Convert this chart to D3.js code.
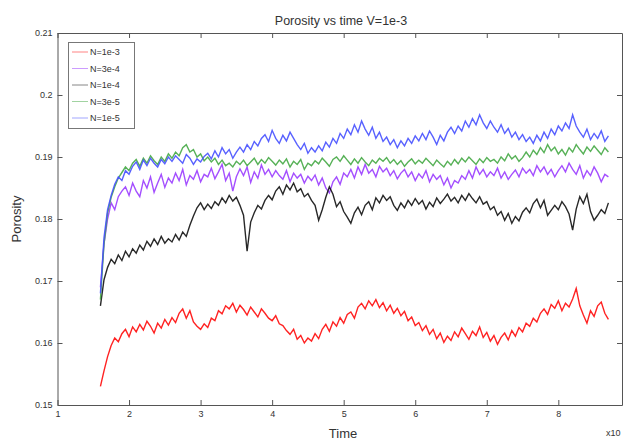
<!DOCTYPE html>
<html>
<head>
<meta charset="utf-8">
<script src="https://cdn.jsdelivr.net/npm/d3@7"></script>
<style>
  html, body { margin: 0; padding: 0; background: #fff; }
  svg { display: block; font-family: "Liberation Sans", Arial, sans-serif; }
  .axis path, .axis line { stroke: #555; }
  .axis text { fill: #333; font-size: 9px; font-family: "Liberation Sans", Arial, sans-serif; }
</style>
</head>
<body>
<svg id="chart" width="625" height="440"></svg>
<script>
// ---- data ----
const tStart = 1.6, tStep = 0.05;           // sampling grid (x 10^n)
const seriesNames = ["N=1e-3", "N=3e-4", "N=1e-4", "N=3e-5", "N=1e-5"];
const seriesColors = ["#ff0a0a", "#9a3cff", "#111111", "#45a845", "#4650ff"];
const xTicks = [1, 2, 3, 4, 5, 6, 7, 8];
const yTicks = [0.15, 0.16, 0.17, 0.18, 0.19, 0.2, 0.21];

const n1e3 = [
 .1530,.1555,.1578,.1596,.1608,.1602,.1615,.1622,.1610,.1626,
 .1618,.1630,.1621,.1635,.1627,.1616,.1632,.1624,.1638,.1629,
 .1641,.1633,.1648,.1655,.1640,.1652,.1634,.1627,.1622,.1631,
 .1625,.1640,.1636,.1652,.1647,.1660,.1655,.1664,.1650,.1661,
 .1654,.1645,.1658,.1650,.1642,.1655,.1648,.1640,.1636,.1644,
 .1631,.1628,.1620,.1614,.1622,.1606,.1612,.1600,.1608,.1603,
 .1615,.1607,.1622,.1630,.1619,.1634,.1627,.1641,.1632,.1646,
 .1650,.1640,.1658,.1664,.1655,.1668,.1660,.1670,.1657,.1665,
 .1652,.1661,.1648,.1656,.1644,.1651,.1636,.1642,.1628,.1633,
 .1620,.1628,.1614,.1622,.1607,.1616,.1601,.1611,.1604,.1618,
 .1610,.1624,.1615,.1606,.1619,.1612,.1626,.1609,.1617,.1603,
 .1612,.1598,.1609,.1616,.1605,.1620,.1611,.1625,.1618,.1632,
 .1627,.1640,.1634,.1648,.1655,.1646,.1662,.1656,.1668,.1652,
 .1664,.1658,.1671,.1688,.1660,.1645,.1632,.1652,.1643,.1660,
 .1666,.1648,.1638];

const n3e4 = [
 .1690,.1760,.1800,.1826,.1815,.1836,.1845,.1852,.1838,.1858,
 .1845,.1836,.1862,.1850,.1868,.1843,.1858,.1872,.1851,.1866,
 .1858,.1874,.1862,.1880,.1855,.1870,.1864,.1878,.1860,.1872,
 .1868,.1882,.1865,.1876,.1888,.1862,.1874,.1845,.1868,.1881,
 .1870,.1884,.1859,.1876,.1866,.1887,.1872,.1880,.1868,.1878,
 .1870,.1864,.1878,.1860,.1874,.1866,.1872,.1858,.1869,.1862,
 .1871,.1855,.1866,.1850,.1842,.1860,.1868,.1856,.1874,.1868,
 .1880,.1866,.1884,.1872,.1888,.1874,.1880,.1868,.1885,.1876,
 .1882,.1870,.1878,.1865,.1874,.1880,.1868,.1876,.1862,.1873,
 .1866,.1878,.1860,.1872,.1864,.1870,.1855,.1866,.1850,.1862,
 .1858,.1870,.1864,.1878,.1866,.1884,.1872,.1880,.1868,.1876,
 .1870,.1882,.1866,.1876,.1864,.1872,.1879,.1868,.1882,.1874,
 .1880,.1870,.1886,.1876,.1884,.1872,.1880,.1868,.1878,.1886,
 .1876,.1890,.1880,.1872,.1886,.1866,.1878,.1870,.1884,.1874,
 .1860,.1872,.1868];

const n1e4 = [
 .1660,.1702,.1722,.1735,.1728,.1742,.1733,.1748,.1739,.1752,
 .1745,.1758,.1750,.1764,.1756,.1768,.1759,.1772,.1761,.1768,
 .1763,.1775,.1766,.1779,.1772,.1790,.1805,.1818,.1826,.1815,
 .1824,.1817,.1828,.1822,.1834,.1826,.1838,.1829,.1835,.1822,
 .1806,.1748,.1795,.1810,.1822,.1816,.1830,.1838,.1831,.1845,
 .1852,.1840,.1855,.1847,.1858,.1844,.1849,.1836,.1841,.1830,
 .1822,.1798,.1815,.1835,.1852,.1840,.1820,.1828,.1812,.1803,
 .1793,.1810,.1819,.1807,.1822,.1828,.1815,.1834,.1826,.1838,
 .1830,.1836,.1822,.1814,.1826,.1818,.1830,.1822,.1833,.1824,
 .1830,.1816,.1827,.1820,.1834,.1825,.1832,.1840,.1829,.1835,
 .1826,.1838,.1830,.1841,.1833,.1826,.1836,.1824,.1828,.1815,
 .1820,.1806,.1812,.1798,.1809,.1793,.1804,.1797,.1811,.1818,
 .1810,.1825,.1832,.1818,.1830,.1806,.1814,.1822,.1815,.1828,
 .1820,.1808,.1782,.1816,.1836,.1825,.1840,.1812,.1798,.1806,
 .1815,.1809,.1826];

const n3e5 = [
 .1670,.1760,.1810,.1835,.1852,.1866,.1875,.1884,.1878,.1890,
 .1896,.1885,.1898,.1890,.1902,.1894,.1888,.1900,.1893,.1905,
 .1898,.1908,.1902,.1915,.1920,.1908,.1912,.1900,.1905,.1894,
 .1900,.1892,.1898,.1888,.1895,.1886,.1890,.1884,.1893,.1888,
 .1895,.1886,.1892,.1898,.1888,.1896,.1890,.1899,.1893,.1887,
 .1895,.1889,.1897,.1884,.1893,.1888,.1896,.1880,.1890,.1886,
 .1894,.1889,.1898,.1892,.1885,.1896,.1900,.1893,.1902,.1895,
 .1888,.1897,.1890,.1899,.1892,.1886,.1895,.1890,.1898,.1893,
 .1899,.1890,.1896,.1888,.1894,.1885,.1892,.1897,.1889,.1895,
 .1890,.1898,.1892,.1886,.1895,.1889,.1884,.1893,.1887,.1896,
 .1889,.1898,.1892,.1900,.1894,.1888,.1897,.1891,.1899,.1893,
 .1896,.1890,.1900,.1894,.1905,.1897,.1902,.1893,.1899,.1908,
 .1900,.1911,.1904,.1915,.1907,.1920,.1910,.1916,.1905,.1912,
 .1903,.1915,.1908,.1920,.1912,.1905,.1916,.1909,.1918,.1911,
 .1904,.1915,.1908];

const n1e5 = [
 .1680,.1770,.1815,.1838,.1856,.1868,.1862,.1878,.1872,.1885,
 .1892,.1880,.1895,.1886,.1898,.1890,.1884,.1896,.1889,.1900,
 .1893,.1902,.1896,.1890,.1904,.1898,.1888,.1897,.1892,.1901,
 .1906,.1897,.1910,.1900,.1915,.1905,.1912,.1898,.1908,.1916,
 .1908,.1920,.1912,.1925,.1918,.1930,.1936,.1925,.1943,.1930,
 .1922,.1935,.1926,.1940,.1930,.1920,.1912,.1922,.1906,.1915,
 .1908,.1918,.1910,.1924,.1916,.1930,.1922,.1938,.1930,.1945,
 .1936,.1952,.1940,.1958,.1945,.1935,.1948,.1930,.1940,.1925,
 .1932,.1920,.1928,.1915,.1926,.1918,.1930,.1922,.1934,.1926,
 .1938,.1928,.1942,.1932,.1920,.1935,.1926,.1940,.1948,.1938,
 .1950,.1942,.1958,.1948,.1962,.1952,.1968,.1955,.1946,.1958,
 .1948,.1940,.1952,.1938,.1946,.1932,.1940,.1928,.1936,.1925,
 .1932,.1922,.1935,.1926,.1940,.1930,.1945,.1936,.1950,.1942,
 .1955,.1946,.1968,.1950,.1940,.1932,.1945,.1928,.1938,.1930,
 .1942,.1925,.1934];

const seriesValues = [n1e3, n3e4, n1e4, n3e5, n1e5];

// ---- layout ----
const L = 57.5, R = 622, T = 33, B = 405;
const svg = d3.select("#chart");

const x = d3.scaleLinear().domain([1, 8.89]).range([L, R]);
const y = d3.scaleLinear().domain([0.15, 0.21]).range([B, T]);

svg.append("rect").attr("x", L).attr("y", T).attr("width", R - L).attr("height", B - T)
  .attr("fill", "#fff");

const line = d3.line()
  .x((d, i) => x(tStart + tStep * i))
  .y(d => y(d));

seriesValues.forEach((vals, k) => {
  svg.append("path")
    .datum(vals)
    .attr("fill", "none")
    .attr("stroke", seriesColors[k])
    .attr("stroke-width", 1.4)
    .attr("stroke-linejoin", "miter")
    .attr("stroke-opacity", 0.9)
    .attr("d", line);
});

const fmtY = d => String(+d.toFixed(2));
svg.append("g").attr("class", "axis").attr("transform", `translate(0,${B})`)
  .call(d3.axisBottom(x).tickValues(xTicks).tickSizeInner(-5).tickSizeOuter(0).tickPadding(6).tickFormat(d3.format("d")));
svg.append("g").attr("class", "axis").attr("transform", `translate(0,${T})`)
  .call(d3.axisTop(x).tickValues(xTicks).tickSizeInner(-5).tickSizeOuter(0).tickFormat(""));
svg.append("g").attr("class", "axis").attr("transform", `translate(${L},0)`)
  .call(d3.axisLeft(y).tickValues(yTicks).tickSizeInner(-5).tickSizeOuter(0).tickPadding(5).tickFormat(fmtY));
svg.append("g").attr("class", "axis").attr("transform", `translate(${R},0)`)
  .call(d3.axisRight(y).tickValues(yTicks).tickSizeInner(-5).tickSizeOuter(0).tickFormat(""));

svg.append("text").attr("x", 341).attr("y", 25).attr("text-anchor", "middle")
  .attr("font-size", 12.5).attr("fill", "#333").text("Porosity vs time V=1e-3");
svg.append("text").attr("transform", "translate(21,219) rotate(-90)").attr("text-anchor", "middle")
  .attr("font-size", 13).attr("fill", "#333").text("Porosity");
svg.append("text").attr("x", 343).attr("y", 438).attr("text-anchor", "middle")
  .attr("font-size", 13).attr("fill", "#333").text("Time");
svg.append("text").attr("x", 606).attr("y", 436)
  .attr("font-size", 9).attr("fill", "#333").text("x10");

const lg = svg.append("g");
lg.append("rect").attr("x", 68.5).attr("y", 42.5).attr("width", 66).attr("height", 86)
  .attr("fill", "#fff").attr("stroke", "#777");
seriesNames.forEach((name, k) => {
  const yy = 52 + k * 16.5;
  lg.append("line").attr("x1", 72).attr("x2", 88).attr("y1", yy).attr("y2", yy)
    .attr("stroke", seriesColors[k]).attr("stroke-width", 1).attr("opacity", 0.5);
  lg.append("text").attr("x", 90).attr("y", yy + 3).attr("font-size", 9).attr("fill", "#333").text(name);
});
</script>
</body>
</html>
